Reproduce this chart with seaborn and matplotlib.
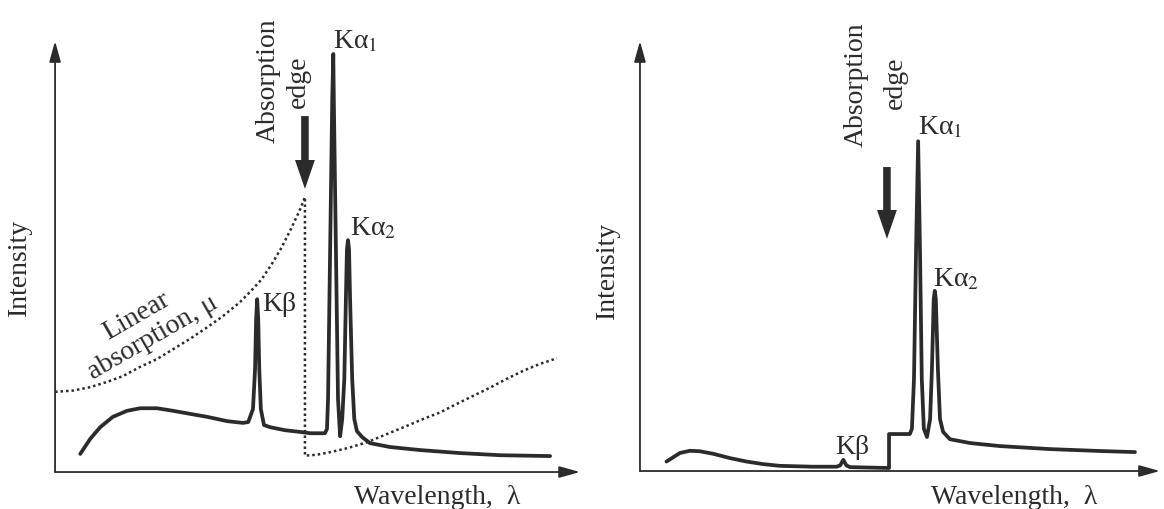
import seaborn as sns
import matplotlib.pyplot as plt
import pandas as pd

# Wavelength / intensity are in arbitrary units (0-100 along each axis).

# Unfiltered tube spectrum: continuum + K beta + K alpha doublet
wl_raw = [4.8, 6.7, 8.6, 11.0, 13.7, 16.2, 19.4, 22.5, 25.7, 29.0, 32.8, 35.8, 36.8,
          37.7, 38.1, 38.3, 38.5, 38.7, 38.9, 39.2, 39.8, 41.0, 43.8, 46.7, 48.6,
          51.4, 51.8, 52.0, 52.4, 52.8, 53.0, 53.1, 53.5, 53.9, 54.3, 54.7, 55.1,
          55.4, 55.6, 55.8, 56.0, 56.2, 56.6, 57.0, 57.5, 58.5, 60.0, 63.8, 69.5,
          77.1, 84.8, 94.3]
int_raw = [4.2, 7.7, 10.4, 12.8, 14.2, 14.8, 14.8, 14.2, 13.5, 12.8, 11.8, 11.4, 11.6,
           14.6, 23.9, 35.5, 40.1, 35.5, 23.9, 14.6, 10.9, 10.4, 9.7, 9.3, 9.0,
           9.0, 10.0, 16.9, 51.7, 86.5, 97.0, 86.5, 51.7, 16.9, 8.3, 12.3, 21.6,
           40.1, 51.7, 53.8, 51.7, 40.1, 21.6, 12.3, 9.5, 8.1, 6.7, 5.8, 5.1,
           4.4, 3.9, 3.7]

# Linear absorption coefficient of the filter (dotted curve)
wl_mu = [0.0, 3.4, 6.7, 9.9, 13.0, 16.2, 19.4, 22.5, 25.7, 29.0, 32.0, 35.2,
         37.7, 39.4, 41.3, 43.2, 45.1, 46.7, 47.6,
         47.6, 49.8, 52.4, 55.9, 59.4, 63.2, 67.0, 70.1, 73.3, 76.5, 79.7, 82.9,
         86.0, 89.2, 92.4, 95.6]
mu = [18.6, 18.9, 19.7, 20.9, 22.3, 24.4, 26.2, 28.5, 30.9, 33.6, 36.2, 39.4,
      42.5, 44.8, 48.3, 52.2, 56.8, 61.0, 63.8,
      3.8, 4.0, 4.6, 5.6, 6.9, 8.8, 10.7, 12.3, 13.8, 15.8, 17.7, 19.6,
      21.6, 23.5, 25.1, 26.4]

# Spectrum after the filter
wl_filt = [5.1, 6.4, 7.7, 9.6, 11.5, 14.1, 17.3, 20.5, 23.7, 26.9, 33.3, 37.8,
           38.5, 39.1, 39.7, 40.4, 47.9, 47.9, 51.9, 52.3, 52.7, 53.1, 53.5, 53.85,
           54.2, 54.6, 55.2, 55.8, 56.15, 56.5, 56.7, 56.9, 57.3, 57.7, 58.3, 59.6,
           63.5, 69.2, 78.8, 88.5, 95.2]
int_filt = [2.2, 3.2, 4.2, 4.7, 4.6, 4.0, 3.0, 2.2, 1.6, 1.2, 1.0, 1.0,
            1.3, 2.6, 1.3, 0.9, 0.7, 8.6, 8.6, 9.8, 21.4, 51.6, 76.7, 51.6,
            21.4, 9.8, 7.9, 12.1, 23.7, 40.0, 41.9, 40.0, 23.7, 12.1, 9.1, 7.4,
            6.5, 5.8, 5.1, 4.65, 4.4]

edge_wl = [47.6, 47.5]

INK = '#2b2b2b'

sns.set_theme(style='white')
plt.rcParams['font.family'] = ['Liberation Serif', 'DejaVu Serif']
plt.rcParams['mathtext.fontset'] = 'stix'
plt.rcParams['text.color'] = INK

fig = plt.figure(figsize=(11.64, 5.1), dpi=100)
ax1 = fig.add_axes([0.0473, 0.0725, 0.451, 0.845])
ax2 = fig.add_axes([0.5498, 0.0745, 0.4467, 0.843])

FS = 20


def frame(ax):
    """Bare axes with arrow heads, no ticks."""
    ax.set_xlim(0, 100)
    ax.set_ylim(0, 100)
    ax.set_xticks([])
    ax.set_yticks([])
    sns.despine(ax=ax, left=True, bottom=True)
    arrow = dict(arrowstyle='-|>,head_length=0.9,head_width=0.25', lw=1.3,
                 color=INK, shrinkA=0, shrinkB=0, mutation_scale=14)
    ax.annotate('', xy=(1, 0), xytext=(0, 0), xycoords='axes fraction',
                arrowprops=arrow, annotation_clip=False)
    ax.annotate('', xy=(0, 1), xytext=(0, 0), xycoords='axes fraction',
                arrowprops=arrow, annotation_clip=False)
    ax.set_xlabel('Wavelength,  λ', fontsize=FS, color=INK)
    ax.set_ylabel('Intensity', fontsize=FS, color=INK)


def edge_arrow(ax, x, y0, y1):
    ax.annotate('', xy=(x, y1), xytext=(x, y0),
                arrowprops=dict(arrowstyle='simple,head_length=1.6,head_width=1.1,tail_width=0.42',
                                color=INK, lw=0, shrinkA=0, shrinkB=0, mutation_scale=13))


# ---- left panel: unfiltered ----
frame(ax1)
ax1.xaxis.set_label_coords(0.728, -0.028)
ax1.yaxis.set_label_coords(-0.044, 0.476)
sns.lineplot(x=wl_mu, y=mu, ax=ax1, sort=False, estimator=None, color=INK,
             lw=1.8, linestyle=(0, (1, 1.2)))
sns.lineplot(x=wl_raw, y=int_raw, ax=ax1, sort=False, estimator=None, color=INK,
             lw=2.7)
edge_arrow(ax1, edge_wl[0], 82.6, 65.7)

ax1.text(40.6, 91.0, 'Absorption', rotation=90, ha='center', va='center', fontsize=FS)
ax1.text(46.3, 90.7, 'edge', rotation=90, ha='center', va='center', fontsize=FS)
ax1.text(53.0, 100.0, 'Kα$_1$', ha='left', va='center', fontsize=FS)
ax1.text(56.2, 56.8, 'Kα$_2$', ha='left', va='center', fontsize=FS)
ax1.text(39.4, 39.0, 'Kβ', ha='left', va='center', fontsize=FS)
ax1.text(15.6, 36.4, 'Linear', rotation=30, ha='center', va='center', fontsize=FS,
         rotation_mode='anchor')
ax1.text(18.7, 31.4, 'absorption, μ', rotation=30, ha='center', va='center',
         fontsize=FS, rotation_mode='anchor')

# ---- right panel: after filter ----
frame(ax2)
ax2.xaxis.set_label_coords(0.719, -0.030)
ax2.yaxis.set_label_coords(-0.038, 0.47)
sns.lineplot(x=wl_filt, y=int_filt, ax=ax2, sort=False, estimator=None, color=INK,
             lw=2.7)
edge_arrow(ax2, edge_wl[1], 70.7, 54.0)

ax2.text(41.5, 90.2, 'Absorption', rotation=90, ha='center', va='center', fontsize=FS)
ax2.text(49.2, 90.5, 'edge', rotation=90, ha='center', va='center', fontsize=FS)
ax2.text(53.5, 80.0, 'Kα$_1$', ha='left', va='center', fontsize=FS)
ax2.text(56.3, 44.7, 'Kα$_2$', ha='left', va='center', fontsize=FS)
ax2.text(37.5, 5.8, 'Kβ', ha='left', va='center', fontsize=FS)

fig.savefig('out.png', dpi=100, facecolor='white')
